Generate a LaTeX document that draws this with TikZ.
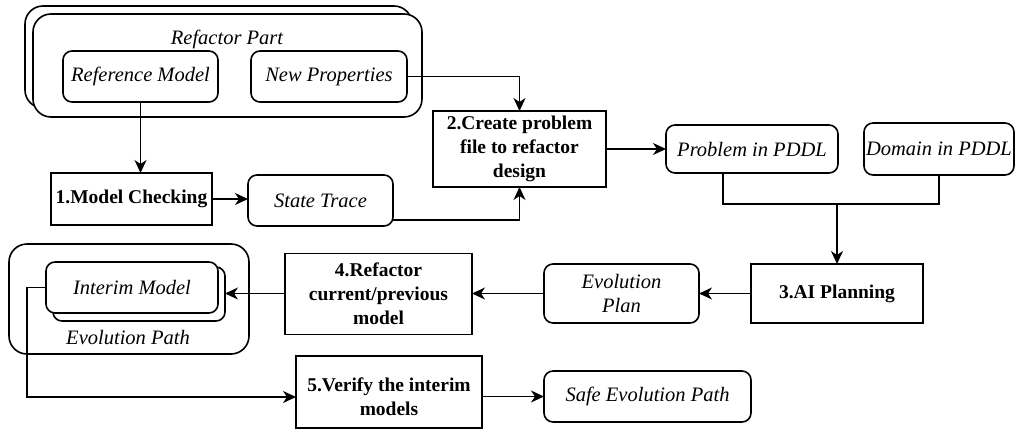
\documentclass[tikz,border=0pt]{standalone}
\usepackage{fontspec}
\setmainfont{Liberation Serif}
\usetikzlibrary{arrows.meta,calc}

\begin{document}
\begin{tikzpicture}[x=1pt,y=-1pt,
  every node/.style={inner sep=0pt, outer sep=0pt},
  txt/.style={font=\fontsize{20.5}{24}\selectfont\itshape, align=center},
  itembox/.style={draw, line width=1.6pt, rounded corners=9pt, fill=white,
    font=\fontsize{20.5}{24}\selectfont\itshape, align=center},
  groupbox/.style={draw, line width=1.6pt, rounded corners=18pt, fill=white},
  stepfont/.style={font=\fontsize{19.5}{24}\selectfont\bfseries, align=center},
  stepbox/.style={draw, line width=1.6pt, fill=white, stepfont},
  link/.style={line width=1.5pt},
  flow/.style={line width=1.5pt, -{Stealth[length=13pt,width=12pt,inset=4pt]}}
]
\useasboundingbox (0,0) rectangle (1015,439);

% Refactor part: stacked group with its two inputs
\node[groupbox, minimum width=387pt, minimum height=102pt] (rpBack) at (218.5,57) {};
\node[groupbox, minimum width=389pt, minimum height=103pt] (rpFront) at (227.5,65.5) {};
\node[txt] (rpLabel) at (227,39) {Refactor Part};
\node[itembox, minimum width=155pt, minimum height=51pt] (refModel) at (140.5,76.5) {Reference Model};
\node[itembox, minimum width=156pt, minimum height=51pt] (newProp) at (329,76.5) {New Properties};

% Step 1 and its trace
\node[stepbox, minimum width=161pt, minimum height=52pt] (mc) at (131.5,199) {1.Model Checking};
\node[itembox, minimum width=145pt, minimum height=51pt] (st) at (320.5,200.5) {State Trace};

% Step 2 and PDDL inputs
\node[stepbox, minimum width=173pt, minimum height=76pt] (cp) at (519.5,149) {2.Create problem\\file to refactor\\design};
\node[itembox, minimum width=172pt, minimum height=48pt] (prob) at (752,149) {Problem in PDDL};
\node[itembox, minimum width=150pt, minimum height=52pt] (dom) at (939,149) {Domain in PDDL};

% Step 3 and its plan
\node[stepbox, minimum width=172pt, minimum height=59pt] (ai) at (837,293.5) {3.AI Planning};
\node[itembox, minimum width=155pt, minimum height=59pt] (ep) at (621.5,293.5) {Evolution\\Plan};

% Step 4 and the evolution path group
\node[stepbox, minimum width=187pt, minimum height=81pt] (rc) at (378.5,294) {4.Refactor\\current/previous\\model};
\node[groupbox, minimum width=240pt, minimum height=110pt] (evp) at (129,299) {};
\node[txt] (evpLabel) at (128,338) {Evolution Path};
\node[itembox, minimum width=172pt, minimum height=54pt] (imBack) at (139,294) {};
\node[itembox, minimum width=172pt, minimum height=51pt] (imFront) at (132,287.5) {Interim Model};

% Step 5 and its result (text sits a little below the box centre)
\node[stepbox, minimum width=186pt, minimum height=72pt,
  label={[stepfont, yshift=-5pt]center:5.Verify the interim\\models}] (vf) at (389,392) {};
\node[itembox, minimum width=207pt, minimum height=51pt] (safe) at (647.5,396.5) {Safe Evolution Path};

% Connectors
\draw[flow] (refModel.south) -- (refModel.south |- mc.north);
\draw[flow] (newProp.east) -| (cp.north);
\draw[flow] (mc.east) -- (mc.east -| st.west);
\draw[flow] ([yshift=-19.5pt]st.east) -| (cp.south);
\draw[flow] (cp.east) -- (prob.west);

\coordinate (merge) at (837,204);
\draw[link] ([xshift=-29pt]prob.south) |- (merge) -| (dom.south);
\draw[flow] (merge) -- (ai.north);

\draw[flow] (ai.west) -- (ep.east);
\draw[flow] (ep.west) -- (rc.east |- ep.west);
\draw[flow] (rc.west |- ep.west) -- (ep.west -| imBack.east);

\coordinate (bend) at (27,397);
\draw[flow] (imFront.west) -| (bend) -- (vf.west |- bend);
\draw[flow] (vf.east |- safe.west) -- (safe.west);
\end{tikzpicture}
\end{document}
